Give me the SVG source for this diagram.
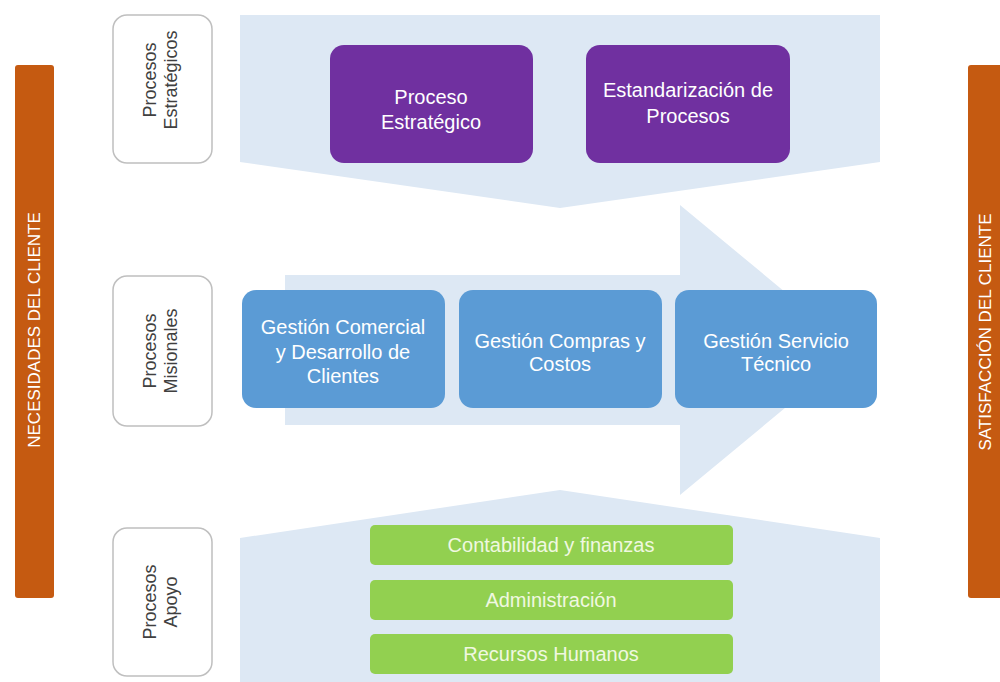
<svg xmlns="http://www.w3.org/2000/svg" width="1000" height="682" viewBox="0 0 1000 682">
<style>
.band{fill:#dde8f4}
.side{fill:#c55a11}
.sidet{fill:#fff;font-family:"Liberation Sans",Arial,sans-serif;font-size:17px;text-anchor:middle}
.lbl{fill:#fff;stroke:#bfbfbf;stroke-width:1.5}
.lblt{fill:#404040;font-family:"Liberation Sans",Arial,sans-serif;font-size:18px;text-anchor:middle}
.pur{fill:#7030a0}
.blu{fill:#5b9bd5}
.grn{fill:#92d050}
.wt{fill:#fff;font-family:"Liberation Sans",Arial,sans-serif;font-size:20px;text-anchor:middle}
.gt{fill:#f0f8e0;font-family:"Liberation Sans",Arial,sans-serif;font-size:20px;text-anchor:middle}
</style>
<rect width="1000" height="682" fill="#fff"/>
<g id="bands">
<polygon class="band" points="240,15 880,15 880,162 560,208 240,162"/>
<polygon class="band" points="285,275 680,275 680,205 855,350 680,495 680,425 285,425"/>
<polygon class="band" points="240,538 560,490 880,538 880,682 240,682"/>
</g>
<g id="necesidades">
<rect class="side" x="15" y="65" width="39" height="533" rx="3"/>
<text class="sidet" transform="translate(40,330) rotate(-90)">NECESIDADES  DEL CLIENTE</text>
</g>
<g id="satisfaccion">
<rect class="side" x="968" y="65" width="40" height="533" rx="3"/>
<text class="sidet" transform="translate(991,332) rotate(-90)">SATISFACCIÓN DEL CLIENTE</text>
</g>
<g id="lbl-estrategicos">
<rect class="lbl" x="113" y="15" width="99" height="148" rx="14"/>
<text class="lblt" transform="translate(160,80) rotate(-90)"><tspan x="0" y="-4">Procesos</tspan><tspan x="0" y="17">Estratégicos</tspan></text>
</g>
<g id="lbl-misionales">
<rect class="lbl" x="113" y="276" width="99" height="150" rx="14"/>
<text class="lblt" transform="translate(160,351) rotate(-90)"><tspan x="0" y="-4">Procesos</tspan><tspan x="0" y="17">Misionales</tspan></text>
</g>
<g id="lbl-apoyo">
<rect class="lbl" x="113" y="528" width="99" height="148" rx="14"/>
<text class="lblt" transform="translate(160,602) rotate(-90)"><tspan x="0" y="-4">Procesos</tspan><tspan x="0" y="17">Apoyo</tspan></text>
</g>
<g id="proceso-estrategico">
<rect class="pur" x="330" y="45" width="203" height="118" rx="14"/>
<text class="wt"><tspan x="431" y="104">Proceso</tspan><tspan x="431" y="129">Estratégico</tspan></text>
</g>
<g id="estandarizacion">
<rect class="pur" x="586" y="45" width="204" height="118" rx="14"/>
<text class="wt"><tspan x="688" y="97">Estandarización de</tspan><tspan x="688" y="123">Procesos</tspan></text>
</g>
<g id="gestion-comercial">
<rect class="blu" x="242" y="290" width="203" height="118" rx="14"/>
<text class="wt"><tspan x="343" y="334">Gestión Comercial</tspan><tspan x="343" y="359">y Desarrollo de</tspan><tspan x="343" y="383">Clientes</tspan></text>
</g>
<g id="gestion-compras">
<rect class="blu" x="459" y="290" width="203" height="118" rx="14"/>
<text class="wt"><tspan x="560" y="348">Gestión Compras y</tspan><tspan x="560" y="371">Costos</tspan></text>
</g>
<g id="gestion-servicio">
<rect class="blu" x="675" y="290" width="202" height="118" rx="14"/>
<text class="wt"><tspan x="776" y="348">Gestión Servicio</tspan><tspan x="776" y="371">Técnico</tspan></text>
</g>
<g id="contabilidad">
<rect class="grn" x="370" y="525" width="363" height="40" rx="5"/>
<text class="gt" x="551" y="552">Contabilidad y finanzas</text>
</g>
<g id="administracion">
<rect class="grn" x="370" y="580" width="363" height="40" rx="5"/>
<text class="gt" x="551" y="607">Administración</text>
</g>
<g id="recursos">
<rect class="grn" x="370" y="634" width="363" height="40" rx="5"/>
<text class="gt" x="551" y="661">Recursos Humanos</text>
</g>
<g id="connectors"></g>
</svg>
